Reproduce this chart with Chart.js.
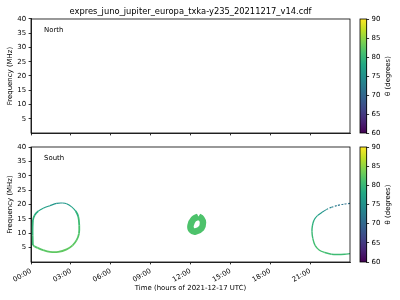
<!DOCTYPE html>
<html>
<head>
<meta charset="utf-8">
<script src="https://cdn.jsdelivr.net/npm/chart.js@4.4.1/dist/chart.umd.min.js"></script>
<style>
  body { margin: 0; background: #fff; }
  #wrap { position: relative; width: 400px; height: 300px; }
  canvas { position: absolute; }
</style>
</head>
<body>
<div id="wrap">
  <canvas id="north" width="400" height="140" style="left:0;top:0"></canvas>
  <canvas id="south" width="400" height="160" style="left:0;top:140px"></canvas>
  <canvas id="northBar" width="50" height="140" style="left:350px;top:0"></canvas>
  <canvas id="southBar" width="50" height="160" style="left:350px;top:140px"></canvas>
</div>
<script>
const fileTitle = 'expres_juno_jupiter_europa_txka-y235_20211217_v14.cdf';
const panelNames = ['North', 'South'];

const timeTicks = [0, 3, 6, 9, 12, 15, 18, 21];
const timeTickLabels = ['00:00', '03:00', '06:00', '09:00', '12:00', '15:00', '18:00', '21:00'];
const freqTicks = [5, 10, 15, 20, 25, 30, 35, 40];
const thetaTicks = [60, 65, 70, 75, 80, 85, 90];

// north hemisphere: no emission in the file
const northHours = [];
const northFreq = [];
const northTheta = [];

// south, loop at the start of the day
const loopAHours = [0.14, 0.12, 0.12, 0.15, 0.28, 0.55, 0.92, 1.43, 1.93, 2.36, 2.68, 3.06, 3.36, 3.56, 3.63, 3.61, 3.43, 3.13, 2.68, 2.05, 1.43, 0.92, 0.5, 0.25, 0.14];
const loopAFreq = [5.9, 9.3, 12.2, 14.6, 16.3, 17.7, 18.7, 19.6, 20.4, 20.5, 20.3, 19.2, 17.7, 15.7, 12.8, 9.9, 7.6, 5.8, 4.4, 3.5, 3.5, 4.1, 4.9, 5.5, 5.9];
const loopATheta = [81, 80, 79.5, 79.5, 79, 78, 77, 76, 75.5, 75.5, 76, 77, 78.5, 80, 81, 81.5, 82, 82.5, 82.5, 82.5, 82.5, 82, 82, 81.5, 81];

// south, small patch around 12:30
const blobHours = [12.60, 12.83, 12.94, 12.83, 12.38, 12.08, 12.00, 12.23, 12.60];
const blobFreq = [15.8, 15.1, 13.7, 11.8, 10.6, 11.1, 12.7, 14.9, 15.8];
const blobTheta = [81.5, 81.5, 81.5, 81.5, 81.5, 81.5, 81.5, 81.5, 81.5];

// south, loop running to the end of the day
const loopBHours = [24, 23.5, 23.0, 22.6, 22.25, 21.9, 21.55, 21.3, 21.17, 21.14, 21.2, 21.37, 21.7, 22.1, 22.6, 23.1, 23.6, 24];
const loopBFreq = [20.4, 20.1, 19.6, 19.0, 18.3, 17.3, 16.1, 14.6, 12.6, 10.5, 8.2, 5.8, 4.1, 3.3, 2.7, 2.6, 2.7, 2.9];
const loopBTheta = [71, 71.5, 72, 73, 74, 75.5, 77, 78.5, 79.5, 80, 80.5, 81, 81, 81, 80.5, 80.5, 80.5, 80.5];

Chart.defaults.font.family = 'DejaVu Sans';
Chart.defaults.font.size = 6.94;
Chart.defaults.color = '#000';

// viridis colormap, 60..90 deg
const viridis = ['#440154', '#482475', '#414487', '#355f8d', '#2a788e', '#21918c', '#22a884', '#44bf70', '#7ad151', '#bddf26', '#fde725'];
function hexRgb(h) {
    return [parseInt(h.substr(1, 2), 16), parseInt(h.substr(3, 2), 16), parseInt(h.substr(5, 2), 16)];
}
function thetaColor(t) {
    let u = Math.max(0, Math.min(1, (t - 60) / 30)) * 10;
    let i = Math.min(9, Math.floor(u)), f = u - i;
    let a = hexRgb(viridis[i]), b = hexRgb(viridis[i + 1]);
    let c = a.map((v, k) => Math.round(v + (b[k] - v) * f));
    return 'rgb(' + c.join(',') + ')';
}

function track(hours, freq, theta, width, tension) {
    return {
        data: hours.map((h, i) => ({x: h, y: freq[i]})),
        showLine: true,
        pointRadius: 0,
        borderWidth: width,
        tension: tension,
        borderColor: theta.length ? thetaColor(theta[0]) : '#000',
        segment: {
            borderColor: ctx => thetaColor((theta[ctx.p0DataIndex] + theta[ctx.p1DataIndex]) / 2),
            borderWidth: ctx => ((theta[ctx.p0DataIndex] + theta[ctx.p1DataIndex]) / 2 < 78 ? 1.1 : width),
            borderDash: ctx => ((theta[ctx.p0DataIndex] + theta[ctx.p1DataIndex]) / 2 < 74 ? [2, 1.5] : undefined)
        }
    };
}

const frame = {
    id: 'frame',
    afterDraw(chart) {
        const {ctx, chartArea: a} = chart;
        ctx.save();
        ctx.strokeStyle = '#000';
        ctx.lineWidth = 0.8;
        ctx.strokeRect(a.left, a.top, a.right - a.left, a.bottom - a.top);
        ctx.restore();
    }
};

const panelName = {
    id: 'panelName',
    afterDraw(chart, args, opts) {
        const {ctx, chartArea: a} = chart;
        ctx.save();
        ctx.font = '6.94px "DejaVu Sans"';
        ctx.fillStyle = '#000';
        ctx.textBaseline = 'middle';
        ctx.fillText(opts.text, a.left + 13, a.top + 11);
        ctx.restore();
    }
};

const cbLabel = {
    id: 'cbLabel',
    afterDraw(chart) {
        const {ctx, chartArea: a} = chart;
        ctx.save();
        ctx.font = '6.94px "DejaVu Sans"';
        ctx.fillStyle = '#000';
        ctx.textAlign = 'center';
        ctx.textBaseline = 'middle';
        ctx.translate(a.right + 22, (a.top + a.bottom) / 2);
        ctx.rotate(-Math.PI / 2);
        ctx.fillText('θ (degrees)', 0, 0);
        ctx.restore();
    }
};

function panelOptions(name, bottom) {
    return {
        responsive: false,
        animation: false,
        devicePixelRatio: 1,
        layout: {padding: {top: bottom ? 7 : 0, right: 50, left: 0, bottom: 0}},
        plugins: {
            legend: {display: false},
            tooltip: {enabled: false},
            panelName: {text: name},
            title: {
                display: !bottom,
                text: fileTitle,
                fullSize: false,
                color: '#000',
                font: {size: 8.33, weight: 'normal'},
                padding: {top: 6.5, bottom: 2.5}
            }
        },
        scales: {
            x: {
                type: 'linear',
                min: 0,
                max: 24,
                afterFit: s => { s.height = bottom ? 38 : 7; },
                afterBuildTicks: s => { s.ticks = timeTicks.map(v => ({value: v})); },
                grid: {drawOnChartArea: false, tickLength: 2.4, color: '#000', lineWidth: 0.8},
                border: {color: '#000', width: 0.8},
                ticks: {
                    display: bottom,
                    autoSkip: false,
                    minRotation: 30,
                    maxRotation: 30,
                    padding: 2.4,
                    callback: (v, i) => timeTickLabels[i]
                },
                title: {display: bottom, text: 'Time (hours of 2021-12-17 UTC)', padding: {top: 0, bottom: 7.8}}
            },
            y: {
                min: 0,
                max: 40,
                afterFit: s => { s.width = 31; },
                afterBuildTicks: s => { s.ticks = freqTicks.map(v => ({value: v})); },
                grid: {drawOnChartArea: false, tickLength: 2.4, color: '#000', lineWidth: 0.8},
                border: {color: '#000', width: 0.8},
                ticks: {padding: 2.4, callback: (v, i) => String(freqTicks[i])},
                title: {display: true, text: 'Frequency (MHz)', padding: {top: 5.8, bottom: 0}}
            }
        }
    };
}

new Chart(document.getElementById('north'), {
    type: 'scatter',
    data: {datasets: [track(northHours, northFreq, northTheta, 1.6, 0.3)]},
    options: panelOptions(panelNames[0], false),
    plugins: [frame, panelName]
});

new Chart(document.getElementById('south'), {
    type: 'scatter',
    data: {datasets: [
        track(loopAHours, loopAFreq, loopATheta, 1.8, 0.25),
        track(blobHours, blobFreq, blobTheta, 6.5, 0.4),
        track(loopBHours, loopBFreq, loopBTheta, 1.4, 0.3)
    ]},
    options: panelOptions(panelNames[1], true),
    plugins: [frame, panelName]
});

function colorbar(id, padTop, padBottom) {
    return new Chart(document.getElementById(id), {
        type: 'bar',
        data: {
            labels: ['θ'],
            datasets: [{
                data: [[thetaTicks[0], thetaTicks[thetaTicks.length - 1]]],
                barPercentage: 1,
                categoryPercentage: 1,
                borderWidth: 0,
                backgroundColor: ctx => {
                    const a = ctx.chart.chartArea;
                    if (!a) return '#21918c';
                    const g = ctx.chart.ctx.createLinearGradient(0, a.bottom, 0, a.top);
                    viridis.forEach((c, i) => g.addColorStop(i / 10, c));
                    return g;
                }
            }]
        },
        options: {
            responsive: false,
            animation: false,
            devicePixelRatio: 1,
            layout: {padding: {left: 10, top: padTop, bottom: padBottom, right: 0}},
            plugins: {legend: {display: false}, tooltip: {enabled: false}},
            scales: {
                x: {display: false},
                y: {
                    position: 'right',
                    min: 60,
                    max: 90,
                    afterFit: s => { s.width = 33.3; },
                    afterBuildTicks: s => { s.ticks = thetaTicks.map(v => ({value: v})); },
                    grid: {drawOnChartArea: false, tickLength: 2.4, color: '#000', lineWidth: 0.8},
                    border: {color: '#000', width: 0.8},
                    ticks: {padding: 2.4, callback: (v, i) => String(thetaTicks[i])}
                }
            }
        },
        plugins: [frame, cbLabel]
    });
}

colorbar('northBar', 19, 7);
colorbar('southBar', 7, 38);
</script>
</body>
</html>
